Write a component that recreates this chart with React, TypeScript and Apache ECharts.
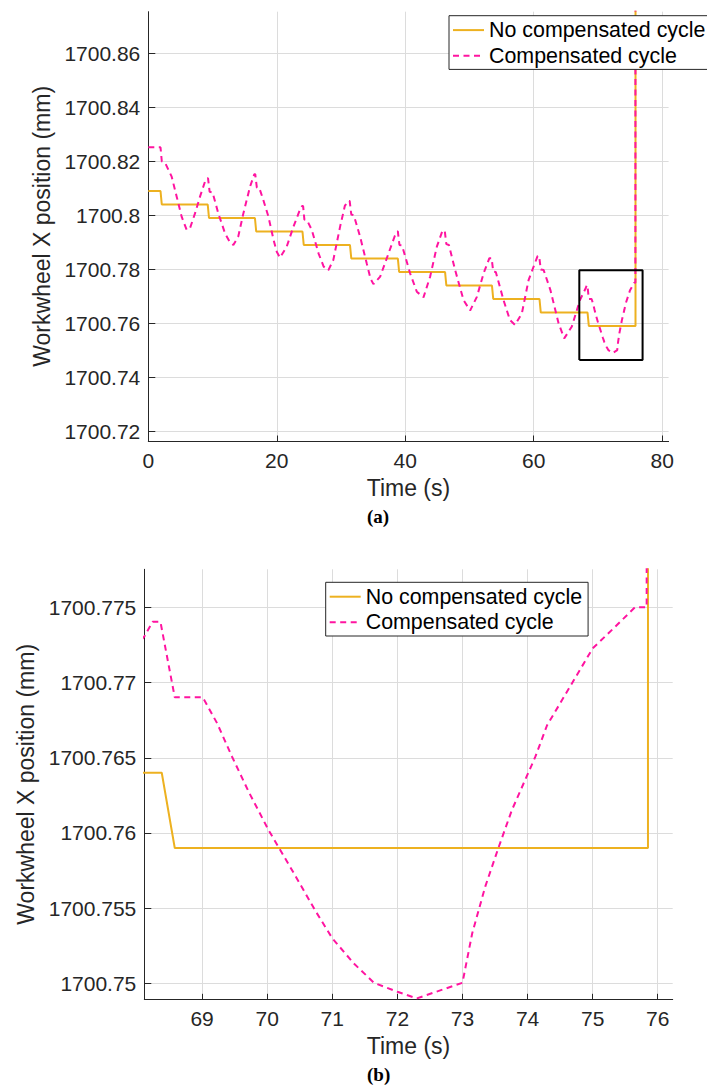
import React, { useEffect, useRef } from "react";
import * as echarts from "echarts";

// ---- data ----
const solidTime = [0, 1.9, 2.1, 9.25, 9.45, 16.6, 16.8, 24.0, 24.2, 31.4, 31.6, 38.85, 39.05, 46.2, 46.4, 53.5, 53.7, 60.9, 61.1, 68.38, 68.58, 75.85, 75.851];
const solidPos = [1700.809, 1700.809, 1700.804, 1700.804, 1700.799, 1700.799, 1700.794, 1700.794, 1700.789, 1700.789, 1700.784, 1700.784, 1700.779, 1700.779, 1700.774, 1700.774, 1700.769, 1700.769, 1700.764, 1700.764, 1700.759, 1700.759, 1700.9];

const compTime = [
  0, 1.0, 1.9, 2.1, 2.6, 3.64, 4.42, 5.19, 5.97,
  6.49, 7.27, 8.05, 8.83, 9.1, 9.3,
  9.55, 10.0, 10.9, 11.95, 12.6, 13.24,
  14.0, 14.8, 15.84, 16.5, 16.65,
  16.9, 17.3, 17.9, 18.7, 19.5, 20.0, 20.5,
  21.55, 22.6, 23.6, 23.95, 24.1,
  24.3, 24.7, 25.45, 26.5, 27.3, 28.04,
  28.8, 29.86, 30.6, 31.1, 31.35,
  31.6, 32.0, 32.97, 34.0, 34.6, 35.05,
  36.1, 37.4, 38.4, 38.7, 38.85,
  39.1, 39.5, 40.76, 41.8, 42.84,
  43.88, 44.92, 45.8, 46.15,
  46.4, 46.8, 47.77, 49.07, 50.1,
  51.15, 52.2, 53.1, 53.45,
  53.7, 54.1, 55.3, 56.3, 57.1,
  58.16, 59.2, 60.6, 60.85,
  61.1, 61.55, 62.6, 63.87, 64.75,
  65.94, 67.2, 68.11, 68.24, 68.36,
  68.58, 69.01, 69.23, 69.46, 69.72, 70.02, 70.41, 70.74, 71.0, 71.33, 71.64, 72.0, 72.3, 73.0,
  73.15, 73.35, 73.55, 73.76, 74.12, 74.3, 74.71, 75.0, 75.32, 75.65, 75.83, 75.84
];
const compPos = [
  1700.8252, 1700.8252, 1700.8252, 1700.82, 1700.8195, 1700.8143, 1700.8069, 1700.7995, 1700.7946,
  1700.7952, 1700.8007, 1700.8069, 1700.8125, 1700.8137, 1700.8137,
  1700.8087, 1700.8085, 1700.8007, 1700.7933, 1700.7905, 1700.789,
  1700.7921, 1700.8007, 1700.8106, 1700.8152, 1700.8152,
  1700.8102, 1700.81, 1700.8057, 1700.7995, 1700.7909, 1700.7865, 1700.7843,
  1700.7884, 1700.7958, 1700.802, 1700.8034, 1700.8034,
  1700.7984, 1700.7982, 1700.7946, 1700.7859, 1700.781, 1700.7797,
  1700.7834, 1700.7958, 1700.8035, 1700.8053, 1700.8053,
  1700.8003, 1700.8, 1700.7921, 1700.7822, 1700.7765, 1700.7745,
  1700.7773, 1700.7859, 1700.7925, 1700.794, 1700.794,
  1700.789, 1700.7888, 1700.7785, 1700.7717, 1700.7696,
  1700.7773, 1700.7884, 1700.7943, 1700.7943,
  1700.7893, 1700.789, 1700.7797, 1700.7686, 1700.7647,
  1700.7698, 1700.7785, 1700.7841, 1700.7841,
  1700.7791, 1700.779, 1700.7686, 1700.7612, 1700.7594,
  1700.7637, 1700.776, 1700.7849, 1700.7849,
  1700.7799, 1700.7797, 1700.7723, 1700.76, 1700.7544,
  1700.7588, 1700.7686, 1700.77305, 1700.77404, 1700.77404,
  1700.76902, 1700.76902, 1700.7673, 1700.76507, 1700.7627, 1700.7602, 1700.75732, 1700.75483, 1700.753, 1700.75133, 1700.75004, 1700.74944, 1700.749, 1700.75004,
  1700.75333, 1700.75643, 1700.75898, 1700.76153, 1700.76507, 1700.76716, 1700.77015, 1700.77227, 1700.7736, 1700.775, 1700.775, 1700.9
];

const zoomBoxTime = [67.1, 76.95];
const zoomBoxPos = [1700.7464, 1700.7796];

const topXRange = [0, 81];
const topYRange = [1700.7164, 1700.8754];
const topXTicks = [0, 20, 40, 60, 80];
const topYTicks = [1700.72, 1700.74, 1700.76, 1700.78, 1700.8, 1700.82, 1700.84, 1700.86];

const botXRange = [68.112, 76.23];
const botYRange = [1700.74894, 1700.77753];
const botXTicks = [69, 70, 71, 72, 73, 74, 75, 76];
const botYTicks = [1700.75, 1700.755, 1700.76, 1700.765, 1700.77, 1700.775];

const seriesNames = ["No compensated cycle", "Compensated cycle"];
const panelLabels = ["(a)", "(b)"];

// ---- styling ----
const FONT = '"Liberation Sans", Arial, Helvetica, sans-serif';
const AX = "#262626";
const GRID = "#dcdcdc";
const ORANGE = "#EDB120";
const PINK = "#FF14A0";

const fmt = (v: number) => String(parseFloat(Number(v).toFixed(4)));

function xAxisCfg(gridIndex: number, range: number[], ticks: number[]) {
  return {
    type: "value",
    gridIndex,
    min: range[0],
    max: range[1],
    name: "Time (s)",
    nameLocation: "middle",
    nameGap: 35,
    nameTextStyle: { fontSize: 23, color: AX, fontFamily: FONT },
    axisLine: { show: true, onZero: false, lineStyle: { color: AX, width: 1 } },
    axisTick: { show: true, inside: true, length: 5.5, customValues: ticks, lineStyle: { color: AX, width: 1 } },
    axisLabel: { show: true, customValues: ticks, fontSize: 21, color: AX, fontFamily: FONT, margin: 9, formatter: fmt },
    splitLine: { show: true, lineStyle: { color: GRID, width: 1 } },
  };
}

function yAxisCfg(gridIndex: number, range: number[], ticks: number[], nameGap: number) {
  return {
    type: "value",
    gridIndex,
    min: range[0],
    max: range[1],
    name: "Workwheel X position (mm)",
    nameLocation: "middle",
    nameGap,
    nameTextStyle: { fontSize: 23, color: AX, fontFamily: FONT },
    axisLine: { show: true, onZero: false, lineStyle: { color: AX, width: 1 } },
    axisTick: { show: true, inside: true, length: 7, customValues: ticks, lineStyle: { color: AX, width: 1 } },
    axisLabel: { show: true, customValues: ticks, fontSize: 21, color: AX, fontFamily: FONT, margin: 8, formatter: fmt },
    splitLine: { show: true, lineStyle: { color: GRID, width: 1 } },
  };
}

function legendCfg(left: number, top: number) {
  return {
    show: true,
    orient: "vertical",
    left,
    top,
    data: seriesNames,
    itemWidth: 31,
    itemHeight: 14,
    itemGap: 1.6,
    padding: [2.4, 6, 1.7, 3],
    backgroundColor: "#ffffff",
    borderColor: AX,
    borderWidth: 1,
    borderRadius: 0,
    selectedMode: false,
    itemStyle: { opacity: 0 },
    textStyle: { fontSize: 21.4, color: "#000", fontFamily: FONT, lineHeight: 24 },
  };
}

export default function App() {
  const ref = useRef<HTMLDivElement>(null);

  useEffect(() => {
    document.body.style.margin = "0";
    document.body.style.overflow = "hidden";
    if (!ref.current) return;
    const chart = echarts.init(ref.current, null, { renderer: "svg" });

    const solidData = solidTime.map((t, i) => [t, solidPos[i]]);
    const compData = compTime.map((t, i) => [t, compPos[i]]);
    const boxData = [
      [zoomBoxTime[0], zoomBoxPos[0]],
      [zoomBoxTime[1], zoomBoxPos[0]],
      [zoomBoxTime[1], zoomBoxPos[1]],
      [zoomBoxTime[0], zoomBoxPos[1]],
      [zoomBoxTime[0], zoomBoxPos[0]],
    ];

    const lineSeries = (idx: number) => [
      {
        name: seriesNames[0],
        type: "line",
        xAxisIndex: idx,
        yAxisIndex: idx,
        data: solidData,
        symbol: "none",
        showSymbol: false,
        clip: true,
        lineStyle: { color: ORANGE, width: 2 },
        itemStyle: { color: ORANGE },
        z: 2,
      },
      {
        name: seriesNames[1],
        type: "line",
        xAxisIndex: idx,
        yAxisIndex: idx,
        data: compData,
        symbol: "none",
        showSymbol: false,
        clip: true,
        lineStyle: { color: PINK, width: 2, type: [6, 4.5] },
        itemStyle: { color: PINK },
        z: 3,
      },
    ];

    chart.setOption({
      animation: false,
      backgroundColor: "#ffffff",
      textStyle: { fontFamily: FONT },
      grid: [
        { left: 148.3, top: 11.7, width: 520.3, height: 429.3, containLabel: false, outerBoundsMode: "none" },
        { left: 144.3, top: 569.3, width: 528.4, height: 430, containLabel: false, outerBoundsMode: "none" },
      ],
      xAxis: [xAxisCfg(0, topXRange, topXTicks), xAxisCfg(1, botXRange, botXTicks)],
      yAxis: [yAxisCfg(0, topYRange, topYTicks, 86), yAxisCfg(1, botYRange, botYTicks, 97)],
      legend: [legendCfg(449, 15.7), legendCfg(325.7, 582.3)],
      series: [
        ...lineSeries(0),
        ...lineSeries(1),
        {
          name: "zoom box",
          type: "line",
          xAxisIndex: 0,
          yAxisIndex: 0,
          data: boxData,
          symbol: "none",
          showSymbol: false,
          lineStyle: { color: "#000", width: 2 },
          z: 4,
          silent: true,
        },
      ],
      graphic: [
        {
          type: "text",
          left: 367,
          top: 507,
          style: { text: panelLabels[0], font: 'bold 19px "Liberation Serif", "Times New Roman", serif', fill: "#000" },
        },
        {
          type: "text",
          left: 367,
          top: 1065,
          style: { text: panelLabels[1], font: 'bold 19px "Liberation Serif", "Times New Roman", serif', fill: "#000" },
        },
      ],
    });

    return () => chart.dispose();
  }, []);

  return <div ref={ref} style={{ width: 707, height: 1085 }} />;
}
